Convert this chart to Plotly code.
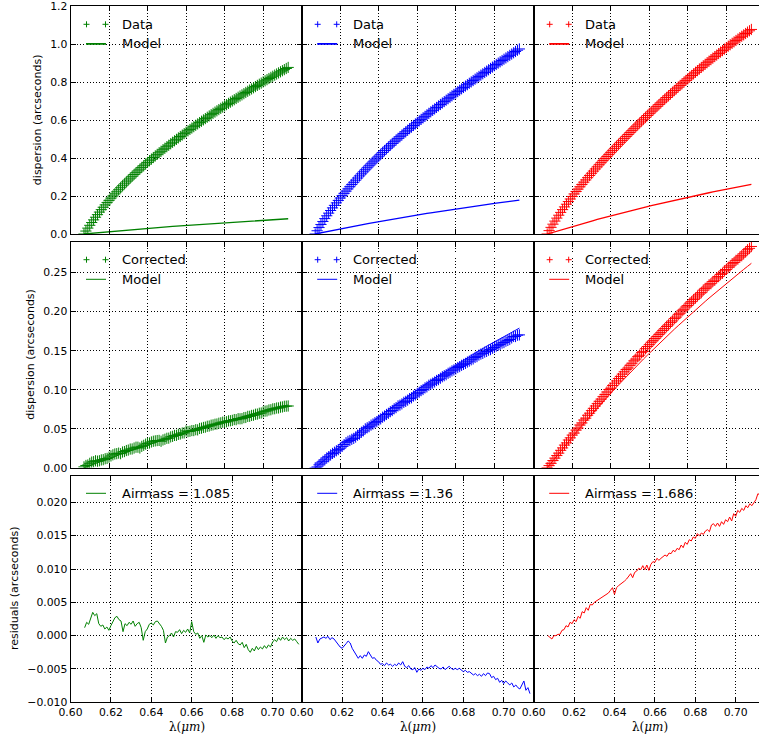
import plotly.graph_objects as go

# ---------------- data ----------------
# sampling wavelengths (micron): 1 nm grid for the measured curves, 2 nm grid for the models
WL = [0.607, 0.608, 0.609, 0.610, 0.611, 0.612, 0.613, 0.614, 0.615, 0.616,
      0.617, 0.618, 0.619, 0.620, 0.621, 0.622, 0.623, 0.624, 0.625, 0.626,
      0.627, 0.628, 0.629, 0.630, 0.631, 0.632, 0.633, 0.634, 0.635, 0.636,
      0.637, 0.638, 0.639, 0.640, 0.641, 0.642, 0.643, 0.644, 0.645, 0.646,
      0.647, 0.648, 0.649, 0.650, 0.651, 0.652, 0.653, 0.654, 0.655, 0.656,
      0.657, 0.658, 0.659, 0.660, 0.661, 0.662, 0.663, 0.664, 0.665, 0.666,
      0.667, 0.668, 0.669, 0.670, 0.671, 0.672, 0.673, 0.674, 0.675, 0.676,
      0.677, 0.678, 0.679, 0.680, 0.681, 0.682, 0.683, 0.684, 0.685, 0.686,
      0.687, 0.688, 0.689, 0.690, 0.691, 0.692, 0.693, 0.694, 0.695, 0.696,
      0.697, 0.698, 0.699, 0.700, 0.701, 0.702, 0.703, 0.704, 0.705, 0.706,
      0.707, 0.708, 0.709, 0.710, 0.711, 0.712, 0.713]

WL_MODEL = [0.607, 0.609, 0.611, 0.613, 0.615, 0.617, 0.619, 0.621, 0.623, 0.625,
            0.627, 0.629, 0.631, 0.633, 0.635, 0.637, 0.639, 0.641, 0.643, 0.645,
            0.647, 0.649, 0.651, 0.653, 0.655, 0.657, 0.659, 0.661, 0.663, 0.665,
            0.667, 0.669, 0.671, 0.673, 0.675, 0.677, 0.679, 0.681, 0.683, 0.685,
            0.687, 0.689, 0.691, 0.693, 0.695, 0.697, 0.699, 0.701, 0.703, 0.705,
            0.707, 0.709, 0.711, 0.713]

AIRMASS = ["1.085", "1.36", "1.686"]
COLORS = ["#008000", "#0000ff", "#ff0000"]

# measured dispersion (row 1)
DATA_G = [0.000, 0.0155, 0.031, 0.0458, 0.0605, 0.0745, 0.0885, 0.102, 0.1155, 0.1283,
          0.141, 0.1533, 0.1655, 0.1773, 0.189, 0.2003, 0.2115, 0.2224, 0.2332, 0.2437,
          0.2542, 0.2644, 0.2746, 0.2845, 0.2944, 0.3041, 0.3137, 0.3231, 0.3325, 0.3417,
          0.3509, 0.3598, 0.3687, 0.3774, 0.3861, 0.3946, 0.4031, 0.4114, 0.4197, 0.4279,
          0.4360, 0.4440, 0.4520, 0.4599, 0.4678, 0.4756, 0.4834, 0.4911, 0.4988, 0.5064,
          0.5140, 0.5215, 0.5290, 0.5364, 0.5438, 0.5511, 0.5584, 0.5657, 0.5729, 0.5801,
          0.5872, 0.5943, 0.6013, 0.6083, 0.6152, 0.6221, 0.6289, 0.6357, 0.6424, 0.6491,
          0.6557, 0.6623, 0.6688, 0.6753, 0.6818, 0.6883, 0.6948, 0.7013, 0.7078, 0.7142,
          0.7206, 0.7270, 0.7333, 0.7396, 0.7459, 0.7522, 0.7584, 0.7646, 0.7708, 0.7770,
          0.7831, 0.7892, 0.7953, 0.8014, 0.8074, 0.8134, 0.8194, 0.8254, 0.8313, 0.8372,
          0.8431, 0.8490, 0.8548, 0.8606, 0.8664, 0.8722, 0.8779]
DATA_B = [0.000, 0.0172, 0.034, 0.0502, 0.066, 0.0812, 0.096, 0.1101, 0.124, 0.1376,
          0.151, 0.1641, 0.177, 0.1896, 0.202, 0.2141, 0.226, 0.2378, 0.2495, 0.2611,
          0.2725, 0.2838, 0.295, 0.3061, 0.317, 0.3278, 0.3385, 0.3491, 0.3595, 0.3698,
          0.380, 0.390, 0.400, 0.410, 0.420, 0.4298, 0.4396, 0.4491, 0.4586, 0.4679,
          0.4772, 0.4862, 0.4952, 0.5040, 0.5128, 0.5213, 0.5298, 0.5384, 0.5469, 0.5552,
          0.5634, 0.5717, 0.580, 0.588, 0.596, 0.6041, 0.6121, 0.6201, 0.6281, 0.6359,
          0.6437, 0.6515, 0.6592, 0.6670, 0.6748, 0.6826, 0.6903, 0.6979, 0.7054, 0.7129,
          0.7204, 0.7280, 0.7355, 0.7430, 0.7505, 0.7578, 0.7651, 0.7724, 0.7796, 0.7869,
          0.7942, 0.8015, 0.8087, 0.8160, 0.8233, 0.8303, 0.8373, 0.8444, 0.8514, 0.8584,
          0.8654, 0.8725, 0.8795, 0.8865, 0.8935, 0.9005, 0.9074, 0.9143, 0.9211, 0.9279,
          0.9347, 0.9415, 0.9482, 0.9550, 0.9618, 0.9686, 0.9753]
DATA_R = [0.000, 0.0178, 0.035, 0.0517, 0.068, 0.0837, 0.099, 0.1139, 0.1285, 0.1428,
          0.157, 0.1709, 0.1845, 0.1979, 0.211, 0.2239, 0.2365, 0.2489, 0.261, 0.2731,
          0.285, 0.2968, 0.3085, 0.3201, 0.3315, 0.3428, 0.354, 0.3651, 0.376, 0.3869,
          0.3978, 0.4086, 0.4194, 0.4301, 0.4408, 0.4514, 0.462, 0.4725, 0.483, 0.4934,
          0.5038, 0.5141, 0.5244, 0.5346, 0.5448, 0.5549, 0.565, 0.575, 0.585, 0.5949,
          0.6048, 0.6146, 0.6244, 0.6341, 0.6438, 0.6534, 0.663, 0.6725, 0.682, 0.6914,
          0.7008, 0.7101, 0.7194, 0.7286, 0.7378, 0.7469, 0.756, 0.765, 0.774, 0.7829,
          0.7918, 0.8006, 0.8094, 0.8181, 0.8268, 0.8354, 0.844, 0.8525, 0.861, 0.8694,
          0.8778, 0.8861, 0.8944, 0.9026, 0.9108, 0.9189, 0.927, 0.935, 0.943, 0.9509,
          0.9588, 0.9666, 0.9744, 0.9821, 0.9898, 0.9974, 1.005, 1.0125, 1.020, 1.0274,
          1.0348, 1.0421, 1.0494, 1.0566, 1.0638, 1.0709, 1.078]

# model dispersion (rows 1 and 2), 2 nm grid
MODEL_G = [0.0000, 0.0019, 0.0038, 0.0057, 0.0076, 0.0094, 0.0112, 0.0130, 0.0148, 0.0166,
           0.0184, 0.0201, 0.0218, 0.0235, 0.0252, 0.0269, 0.0286, 0.0302, 0.0318, 0.0335,
           0.0351, 0.0366, 0.0382, 0.0398, 0.0413, 0.0428, 0.0443, 0.0458, 0.0473, 0.0488,
           0.0503, 0.0517, 0.0531, 0.0546, 0.0560, 0.0574, 0.0587, 0.0601, 0.0615, 0.0628,
           0.0642, 0.0655, 0.0668, 0.0681, 0.0694, 0.0707, 0.0719, 0.0732, 0.0744, 0.0757,
           0.0769, 0.0781, 0.0793, 0.0805]
MODEL_B = [0.0000, 0.0043, 0.0085, 0.0127, 0.0168, 0.0209, 0.0250, 0.0290, 0.0330, 0.0369,
           0.0408, 0.0447, 0.0485, 0.0523, 0.0561, 0.0598, 0.0635, 0.0672, 0.0708, 0.0744,
           0.0779, 0.0815, 0.0849, 0.0884, 0.0918, 0.0952, 0.0986, 0.1019, 0.1052, 0.1085,
           0.1118, 0.1150, 0.1181, 0.1213, 0.1244, 0.1275, 0.1306, 0.1337, 0.1367, 0.1397,
           0.1427, 0.1456, 0.1485, 0.1514, 0.1543, 0.1571, 0.1599, 0.1627, 0.1655, 0.1682,
           0.1710, 0.1737, 0.1764, 0.1790]
MODEL_R = [0.0000, 0.0062, 0.0124, 0.0186, 0.0246, 0.0306, 0.0366, 0.0424, 0.0483, 0.0541,
           0.0598, 0.0654, 0.0710, 0.0766, 0.0821, 0.0876, 0.0930, 0.0983, 0.1036, 0.1089,
           0.1141, 0.1192, 0.1243, 0.1294, 0.1344, 0.1394, 0.1443, 0.1492, 0.1540, 0.1588,
           0.1636, 0.1683, 0.1729, 0.1776, 0.1821, 0.1867, 0.1912, 0.1956, 0.2001, 0.2044,
           0.2088, 0.2131, 0.2174, 0.2216, 0.2258, 0.2300, 0.2341, 0.2382, 0.2423, 0.2463,
           0.2502, 0.2542, 0.2581, 0.2620]

# corrected dispersion (row 2)
CORR_G = [0.0012, 0.0030, 0.0036, 0.0057, 0.0073, 0.0078, 0.0090, 0.0085, 0.0090, 0.0101,
          0.0104, 0.0116, 0.0120, 0.0136, 0.0152, 0.0166, 0.0177, 0.0181, 0.0188, 0.0181,
          0.0202, 0.0208, 0.0221, 0.0227, 0.0240, 0.0241, 0.0253, 0.0264, 0.0264, 0.0254,
          0.0275, 0.0288, 0.0303, 0.0313, 0.0318, 0.0331, 0.0340, 0.0345, 0.0349, 0.0351,
          0.0340, 0.0357, 0.0366, 0.0378, 0.0380, 0.0396, 0.0403, 0.0415, 0.0416, 0.0429,
          0.0433, 0.0446, 0.0447, 0.0472, 0.0464, 0.0468, 0.0477, 0.0477, 0.0488, 0.0486,
          0.0504, 0.0508, 0.0517, 0.0521, 0.0532, 0.0535, 0.0546, 0.0550, 0.0558, 0.0561,
          0.0571, 0.0576, 0.0585, 0.0586, 0.0590, 0.0601, 0.0603, 0.0608, 0.0618, 0.0617,
          0.0629, 0.0628, 0.0630, 0.0643, 0.0645, 0.0659, 0.0660, 0.0671, 0.0674, 0.0686,
          0.0688, 0.0699, 0.0702, 0.0716, 0.0726, 0.0729, 0.0741, 0.0744, 0.0755, 0.0757,
          0.0766, 0.0767, 0.0777, 0.0780, 0.0788, 0.0790, 0.0792]
CORR_B = [-0.0002, 0.0011, 0.0038, 0.0061, 0.0083, 0.0102, 0.0126, 0.0142, 0.0165, 0.0184,
          0.0200, 0.0218, 0.0233, 0.0251, 0.0274, 0.0298, 0.0322, 0.0339, 0.0350, 0.0365,
          0.0377, 0.0394, 0.0417, 0.0432, 0.0456, 0.0473, 0.0499, 0.0513, 0.0527, 0.0547,
          0.0561, 0.0578, 0.0592, 0.0612, 0.0627, 0.0649, 0.0664, 0.0683, 0.0698, 0.0719,
          0.0734, 0.0756, 0.0771, 0.0793, 0.0803, 0.0819, 0.0839, 0.0851, 0.0867, 0.0887,
          0.0897, 0.0919, 0.0934, 0.0954, 0.0968, 0.0989, 0.1003, 0.1024, 0.1037, 0.1058,
          0.1071, 0.1085, 0.1100, 0.1119, 0.1130, 0.1148, 0.1167, 0.1180, 0.1193, 0.1211,
          0.1224, 0.1242, 0.1254, 0.1268, 0.1285, 0.1297, 0.1313, 0.1325, 0.1338, 0.1355,
          0.1367, 0.1384, 0.1395, 0.1414, 0.1425, 0.1444, 0.1457, 0.1466, 0.1482, 0.1491,
          0.1507, 0.1515, 0.1532, 0.1541, 0.1559, 0.1570, 0.1581, 0.1598, 0.1605, 0.1622,
          0.1632, 0.1644, 0.1664, 0.1683, 0.1682, 0.1699, 0.1703]
CORR_R = [0.0000, 0.0028, 0.0057, 0.0093, 0.0124, 0.0157, 0.0188, 0.0224, 0.0255, 0.0291,
          0.0319, 0.0356, 0.0384, 0.0419, 0.0445, 0.0483, 0.0509, 0.0548, 0.0575, 0.0612,
          0.0636, 0.0673, 0.0700, 0.0732, 0.0762, 0.0792, 0.0822, 0.0852, 0.0880, 0.0911,
          0.0940, 0.0971, 0.1002, 0.1019, 0.1055, 0.1085, 0.1113, 0.1143, 0.1171, 0.1200,
          0.1230, 0.1260, 0.1279, 0.1313, 0.1340, 0.1370, 0.1393, 0.1424, 0.1443, 0.1475,
          0.1492, 0.1526, 0.1554, 0.1578, 0.1608, 0.1629, 0.1656, 0.1682, 0.1709, 0.1731,
          0.1760, 0.1783, 0.1811, 0.1832, 0.1860, 0.1882, 0.1912, 0.1931, 0.1961, 0.1981,
          0.2011, 0.2032, 0.2060, 0.2080, 0.2109, 0.2129, 0.2155, 0.2175, 0.2201, 0.2225,
          0.2244, 0.2276, 0.2299, 0.2317, 0.2343, 0.2359, 0.2387, 0.2404, 0.2432, 0.2450,
          0.2478, 0.2493, 0.2524, 0.2541, 0.2570, 0.2588, 0.2614, 0.2631, 0.2658, 0.2675,
          0.2700, 0.2717, 0.2742, 0.2766, 0.2794, 0.2812, 0.2836]

# residuals (row 3)
RESID_G = [0.0012, 0.0020, 0.0017, 0.0028, 0.0035, 0.0030, 0.0033, 0.0018, 0.0014, 0.0016,
           0.0010, 0.0013, 0.0008, 0.0015, 0.0022, 0.0027, 0.0029, 0.0024, 0.0022, 0.0006,
           0.0018, 0.0015, 0.0020, 0.0017, 0.0022, 0.0014, 0.0018, 0.0020, 0.0012, -0.0007,
           0.0006, 0.0010, 0.0017, 0.0019, 0.0016, 0.0021, 0.0022, 0.0018, 0.0014, 0.0008,
           -0.0011, -0.0002, 0.0000, 0.0004, -0.0002, 0.0006, 0.0005, 0.0009, 0.0003, 0.0008,
           0.0005, 0.0010, 0.0004, 0.0021, 0.0006, 0.0002, 0.0004, -0.0004, 0.0000, -0.0010,
           0.0001, -0.0002, 0.0000, -0.0003, 0.0001, -0.0004, 0.0000, -0.0003, -0.0002, -0.0006,
           -0.0003, -0.0005, -0.0002, -0.0008, -0.0011, -0.0007, -0.0012, -0.0014, -0.0010, -0.0018,
           -0.0013, -0.0021, -0.0025, -0.0019, -0.0023, -0.0016, -0.0021, -0.0017, -0.0020, -0.0015,
           -0.0019, -0.0014, -0.0017, -0.0010, -0.0006, -0.0009, -0.0003, -0.0007, -0.0002, -0.0006,
           -0.0003, -0.0008, -0.0004, -0.0007, -0.0005, -0.0009, -0.0013]
RESID_B = [-0.0002, -0.0011, -0.0005, -0.0003, -0.0002, -0.0004, -0.0001, -0.0006, -0.0003, -0.0005,
           -0.0009, -0.0012, -0.0017, -0.0019, -0.0016, -0.0012, -0.0008, -0.0011, -0.0019, -0.0024,
           -0.0031, -0.0034, -0.0030, -0.0034, -0.0029, -0.0031, -0.0024, -0.0029, -0.0034, -0.0033,
           -0.0037, -0.0039, -0.0043, -0.0042, -0.0045, -0.0041, -0.0044, -0.0043, -0.0046, -0.0043,
           -0.0045, -0.0041, -0.0044, -0.0039, -0.0046, -0.0048, -0.0045, -0.0050, -0.0051, -0.0048,
           -0.0055, -0.0050, -0.0052, -0.0049, -0.0051, -0.0047, -0.0049, -0.0045, -0.0048, -0.0044,
           -0.0047, -0.0049, -0.0050, -0.0047, -0.0051, -0.0049, -0.0046, -0.0049, -0.0051, -0.0049,
           -0.0051, -0.0049, -0.0052, -0.0054, -0.0052, -0.0055, -0.0054, -0.0057, -0.0059, -0.0057,
           -0.0060, -0.0058, -0.0061, -0.0057, -0.0060, -0.0056, -0.0057, -0.0063, -0.0061, -0.0066,
           -0.0064, -0.0070, -0.0067, -0.0072, -0.0068, -0.0071, -0.0074, -0.0071, -0.0077, -0.0074,
           -0.0078, -0.0080, -0.0073, -0.0068, -0.0082, -0.0078, -0.0087]
RESID_R = [0.0000, -0.0003, -0.0005, 0.0000, 0.0000, 0.0002, 0.0002, 0.0008, 0.0009, 0.0015,
           0.0013, 0.0020, 0.0018, 0.0024, 0.0021, 0.0029, 0.0026, 0.0036, 0.0034, 0.0042,
           0.0038, 0.0047, 0.0046, 0.0050, 0.0052, 0.0054, 0.0056, 0.0058, 0.0059, 0.0062,
           0.0064, 0.0068, 0.0072, 0.0062, 0.0072, 0.0075, 0.0077, 0.0080, 0.0082, 0.0085,
           0.0089, 0.0093, 0.0087, 0.0095, 0.0097, 0.0101, 0.0099, 0.0105, 0.0099, 0.0106,
           0.0098, 0.0107, 0.0111, 0.0110, 0.0116, 0.0113, 0.0116, 0.0118, 0.0121, 0.0119,
           0.0124, 0.0123, 0.0128, 0.0126, 0.0131, 0.0129, 0.0136, 0.0132, 0.0140, 0.0137,
           0.0144, 0.0142, 0.0148, 0.0146, 0.0153, 0.0150, 0.0154, 0.0152, 0.0157, 0.0159,
           0.0156, 0.0166, 0.0168, 0.0164, 0.0169, 0.0164, 0.0171, 0.0167, 0.0174, 0.0171,
           0.0178, 0.0172, 0.0183, 0.0179, 0.0188, 0.0185, 0.0191, 0.0188, 0.0195, 0.0192,
           0.0198, 0.0195, 0.0200, 0.0204, 0.0213, 0.0211, 0.0216]

DATA = [DATA_G, DATA_B, DATA_R]
MODEL = [MODEL_G, MODEL_B, MODEL_R]
CORR = [CORR_G, CORR_B, CORR_R]
RESID = [RESID_G, RESID_B, RESID_R]

for s in DATA + CORR + RESID:
    assert len(s) == len(WL), len(s)
for s in MODEL:
    assert len(s) == len(WL_MODEL), len(s)

# ---------------- layout geometry ----------------
W, H = 759, 738
COL_PX = [(70.5, 301.7), (301.7, 533.7), (533.7, 759.0)]
ROW_PX = [(6.3, 234.0), (241.7, 467.8), (475.7, 702.3)]
PX_PER_UNIT_X = [1926.5, 1926.5, 2020.0]
Y_RANGES = [(0.0, 1.2), (0.0, 0.2897), (-0.010, 0.0240)]
Y_DTICK = [0.2, 0.05, 0.005]
Y_TICK0 = [0.0, 0.0, -0.010]
Y_FMT = [".1f", ".2f", ".3f"]
Y_TITLES = ["dispersion (arcseconds)", "dispersion (arcseconds)", "residuals (arcseconds)"]
Y_TITLE_X = [37, 31, 14]
FONT = "DejaVu Sans"


def px(x):
    return x / W


def py(y):
    return 1 - y / H


fig = go.Figure()
layout = dict(template="none", width=W, height=H,
              margin=dict(l=0, r=0, t=0, b=0, pad=0, autoexpand=False),
              paper_bgcolor="white", plot_bgcolor="white", showlegend=False,
              font=dict(family=FONT, color="black", size=11))
annotations = []
shapes = []

AXIS = dict(showgrid=True, gridcolor="#000000", gridwidth=0.8, griddash="1px,2.2px",
            zeroline=False, showline=True, linecolor="black", linewidth=1,
            ticks="inside", ticklen=5, tickwidth=1, tickcolor="black", automargin=False,
            tickfont=dict(family=FONT, size=10.8, color="black"))

for r in range(3):
    for c in range(3):
        idx = r * 3 + c + 1
        sfx = "" if idx == 1 else str(idx)
        xa, ya = "x" + sfx, "y" + sfx
        x0, x1 = COL_PX[c]
        y0, y1 = ROW_PX[r]
        xr = (0.60, 0.60 + (x1 - x0) / PX_PER_UNIT_X[r])
        layout["xaxis" + sfx] = dict(
            AXIS, domain=[px(x0), px(x1)], anchor=ya, range=list(xr),
            tick0=0.60, dtick=0.02, tickformat=".2f",
            showticklabels=(r == 2), mirror="ticks")
        layout["yaxis" + sfx] = dict(
            AXIS, domain=[py(y1), py(y0)], anchor=xa, range=list(Y_RANGES[r]),
            tick0=Y_TICK0[r], dtick=Y_DTICK[r], tickformat=Y_FMT[r],
            showticklabels=(c == 0), mirror=("ticks" if c < 2 else False))

        col = COLORS[c]
        if r == 0:
            fig.add_trace(go.Scatter(x=WL, y=DATA[c], mode="markers", xaxis=xa, yaxis=ya,
                                     marker=dict(symbol="cross-thin", size=8, color=col,
                                                 line=dict(color=col, width=1))))
            fig.add_trace(go.Scatter(x=WL_MODEL, y=MODEL[c], mode="lines", xaxis=xa, yaxis=ya,
                                     line=dict(color=col, width=1.3)))
        elif r == 1:
            fig.add_trace(go.Scatter(x=WL, y=CORR[c], mode="markers", xaxis=xa, yaxis=ya,
                                     marker=dict(symbol="cross-thin", size=8, color=col,
                                                 line=dict(color=col, width=1))))
            fig.add_trace(go.Scatter(x=WL_MODEL, y=MODEL[c], mode="lines", xaxis=xa, yaxis=ya,
                                     line=dict(color=col, width=1)))
        else:
            fig.add_trace(go.Scatter(x=WL, y=RESID[c], mode="lines", xaxis=xa, yaxis=ya,
                                     line=dict(color=col, width=1)))

        # frameless matplotlib-style legend
        L, T = x0, y0
        if r < 2:
            for cx in (L + 16, L + 35):
                cy = T + 18
                shapes.append(dict(type="line", xref="paper", yref="paper",
                                   x0=px(cx - 3), x1=px(cx + 3), y0=py(cy), y1=py(cy),
                                   line=dict(color=col, width=1)))
                shapes.append(dict(type="line", xref="paper", yref="paper",
                                   x0=px(cx), x1=px(cx), y0=py(cy - 3), y1=py(cy + 3),
                                   line=dict(color=col, width=1)))
            annotations.append(dict(text=("Data" if r == 0 else "Corrected"), xref="paper",
                                    yref="paper", x=px(L + 49), y=py(T + 18), xanchor="left",
                                    yanchor="middle", showarrow=False,
                                    font=dict(family=FONT, size=13, color="black")))
            shapes.append(dict(type="line", xref="paper", yref="paper",
                               x0=px(L + 15.5), x1=px(L + 35.5), y0=py(T + 37.6), y1=py(T + 37.6),
                               line=dict(color=col, width=(1.8 if r == 0 else 1))))
            annotations.append(dict(text="Model", xref="paper", yref="paper",
                                    x=px(L + 49), y=py(T + 37.6), xanchor="left",
                                    yanchor="middle", showarrow=False,
                                    font=dict(family=FONT, size=13, color="black")))
        else:
            shapes.append(dict(type="line", xref="paper", yref="paper",
                               x0=px(L + 15.5), x1=px(L + 35.5), y0=py(T + 17.6), y1=py(T + 17.6),
                               line=dict(color=col, width=1)))
            annotations.append(dict(text="Airmass = " + AIRMASS[c], xref="paper", yref="paper",
                                    x=px(L + 49), y=py(T + 17.6), xanchor="left",
                                    yanchor="middle", showarrow=False,
                                    font=dict(family=FONT, size=13, color="black")))
            annotations.append(dict(text="λ(<i>μm</i>)", xref="paper", yref="paper",
                                    x=px(x0 + 116), y=py(727), xanchor="center",
                                    yanchor="middle", showarrow=False,
                                    font=dict(family="DejaVu Serif", size=12, color="black")))

    annotations.append(dict(text=Y_TITLES[r], xref="paper", yref="paper",
                            x=px(Y_TITLE_X[r]), y=py((ROW_PX[r][0] + ROW_PX[r][1]) / 2),
                            textangle=-90, xanchor="center", yanchor="middle", showarrow=False,
                            font=dict(family=FONT, size=11, color="black")))

layout["annotations"] = annotations
layout["shapes"] = shapes
fig.update_layout(**layout)
fig.write_html("out.html")
